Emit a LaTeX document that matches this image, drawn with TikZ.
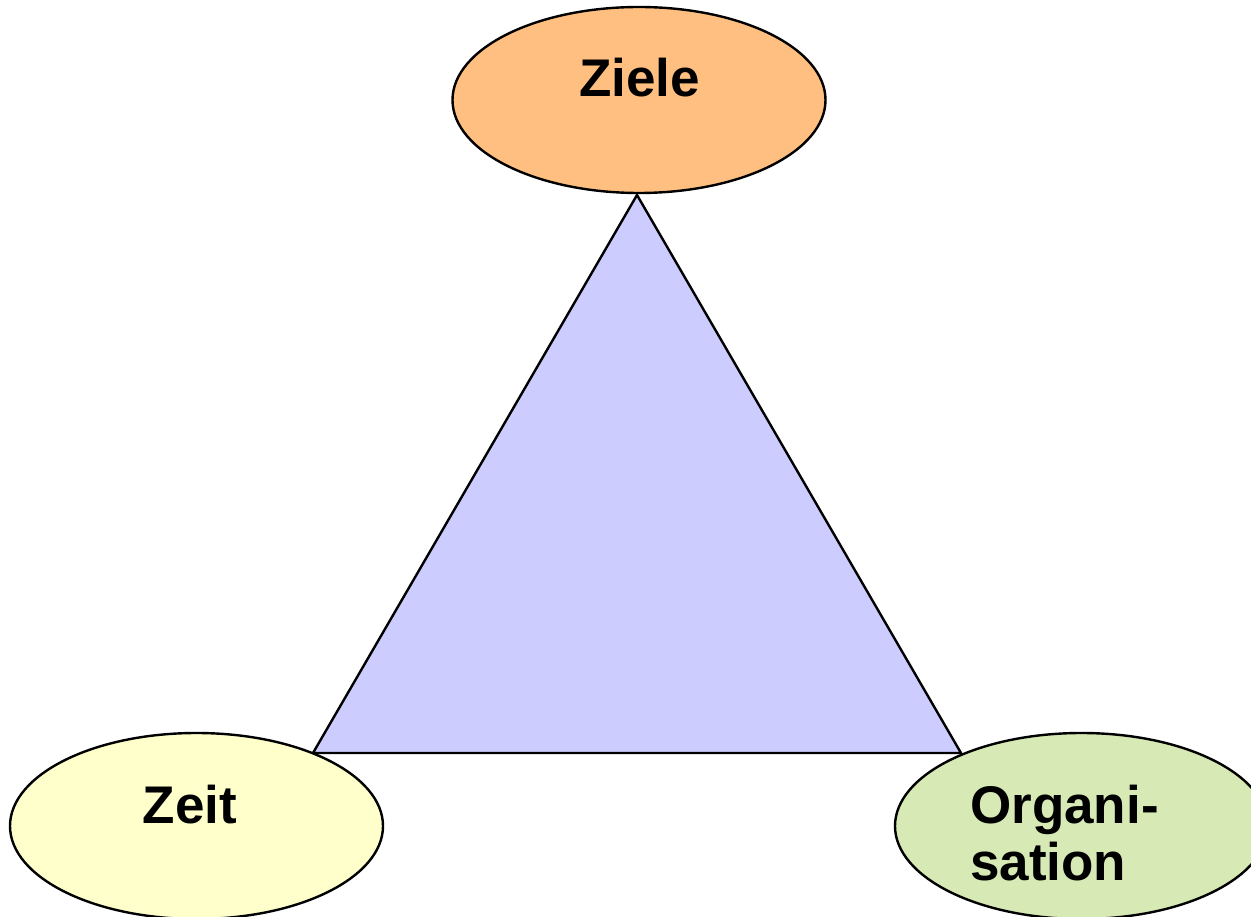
\documentclass[tikz,border=0pt]{standalone}
\usepackage{fontspec}
\setmainfont{Liberation Sans}
\usetikzlibrary{shapes.geometric}
\definecolor{zielefill}{RGB}{255,191,128}
\definecolor{zeitfill}{RGB}{255,255,204}
\definecolor{orgfill}{RGB}{215,233,180}
\definecolor{trifill}{RGB}{204,204,255}
\tikzset{
  oval/.style={ellipse, draw=black, line width=2.4pt, minimum width=373pt, minimum height=186pt, inner sep=0pt},
  lbl/.style={font=\fontsize{53}{58}\selectfont\bfseries, inner sep=0pt, anchor=base},
  tri/.style={fill=trifill, draw=black, line width=2.4pt, line join=miter}
}
\begin{document}
\begin{tikzpicture}[x=1pt,y=-1pt]
\useasboundingbox (0,0) rectangle (1251,917);
\coordinate (top) at (637,195);
\coordinate (bl) at (313,753);
\coordinate (br) at (961,753);
\draw[tri] (top) -- (bl) -- (br) -- cycle;
\node[oval, fill=zielefill] (ziele) at (639,100) {};
\node[oval, fill=zeitfill] (zeit) at (196.5,826) {};
\node[oval, fill=orgfill] (org) at (1081.5,826) {};
\node[lbl] (zieletext) at (639.5,97) {Ziele};
\node[lbl] (zeittext) at (190,823) {Zeit};
\node[lbl, anchor=base west] (orgtext1) at (970,823) {Organi-};
\node[lbl, anchor=base west] (orgtext2) at (970,880) {sation};
\end{tikzpicture}
\end{document}
